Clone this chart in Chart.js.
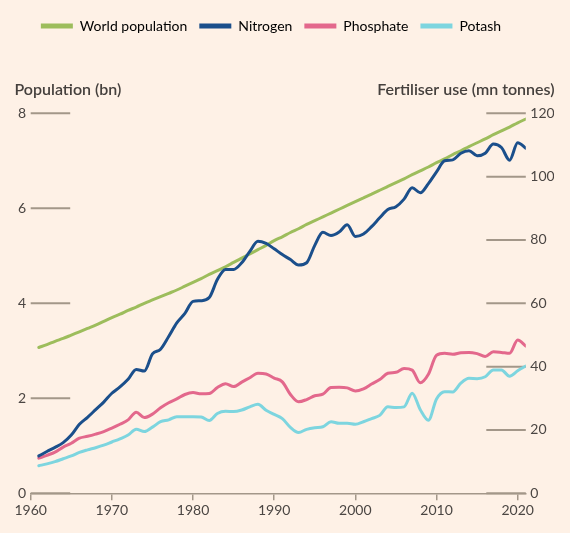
<!DOCTYPE html>
<html>
<head>
<meta charset="utf-8">
<script src="https://cdn.jsdelivr.net/npm/chart.js@4.4.1/dist/chart.umd.min.js"></script>
<style>
  html, body { margin: 0; padding: 0; background: #fef1e6; }
  #wrap { width: 554px; height: 533px; overflow: hidden; }
  canvas { display: block; }
</style>
</head>
<body>
<div id="wrap"><canvas id="c" width="570" height="533"></canvas></div>
<script>
// ---------- DATA ----------
const years = [1961,1962,1963,1964,1965,1966,1967,1968,1969,1970,
  1971,1972,1973,1974,1975,1976,1977,1978,1979,1980,
  1981,1982,1983,1984,1985,1986,1987,1988,1989,1990,
  1991,1992,1993,1994,1995,1996,1997,1998,1999,2000,
  2001,2002,2003,2004,2005,2006,2007,2008,2009,2010,
  2011,2012,2013,2014,2015,2016,2017,2018,2019,2020,2021];

// World population (bn), left axis
const population = [3.07,3.13,3.20,3.26,3.33, 3.40,3.47,3.54,3.62,3.70,
  3.77,3.85,3.92,4.00,4.07, 4.14,4.21,4.28,4.36,4.44,
  4.52,4.61,4.69,4.77,4.86, 4.95,5.04,5.13,5.22,5.32,
  5.40,5.49,5.57,5.66,5.74, 5.82,5.90,5.98,6.06,6.14,
  6.22,6.30,6.38,6.46,6.54, 6.62,6.71,6.79,6.87,6.96,
  7.04,7.13,7.21,7.30,7.38, 7.46,7.55,7.63,7.71,7.80, 7.88];

// Fertiliser use (mn tonnes), right axis
const nitrogen = [11.8,13.2,14.5,16.0,18.4, 21.8,24.0,26.4,28.8,31.6,
  33.6,36.0,39.1,38.6,44.0, 45.5,49.5,53.8,56.8,60.6,
  60.8,61.8,67.5,70.7,70.7, 72.8,76.4,79.6,78.9,77.2,
  75.4,73.8,72.1,72.8,78.3, 82.4,81.4,82.5,84.8,81.1,
  81.9,84.2,87.0,89.6,90.5, 92.9,96.5,94.9,97.8,101.5,
  105.0,105.3,107.4,108.2,106.6, 107.4,110.3,109.2,105.2,110.7, 109.0];

const phosphate = [11.1,12.0,13.0,14.6,15.8, 17.4,18.0,18.7,19.5,20.6,
  21.8,23.2,25.6,23.9,25.0, 27.0,28.6,29.8,31.2,31.8,
  31.4,31.5,33.4,34.6,33.7, 35.1,36.5,37.9,37.7,36.4,
  35.2,31.2,28.9,29.6,30.8, 31.3,33.4,33.5,33.3,32.3,
  33.0,34.5,35.9,37.9,38.2, 39.4,38.9,34.9,37.6,43.6,
  44.2,43.9,44.4,44.5,44.1, 43.2,44.7,44.5,44.2,48.4, 46.5];

const potash = [8.7,9.3,10.0,10.9,11.8, 12.9,13.7,14.4,15.2,16.2,
  17.2,18.4,20.2,19.5,20.9, 22.6,23.2,24.2,24.2,24.2,
  24.1,23.0,25.2,25.9,25.8, 26.3,27.3,28.1,26.2,24.9,
  23.6,20.8,19.2,20.2,20.7, 21.0,22.6,22.1,22.1,21.8,
  22.6,23.6,24.6,27.3,27.1, 27.3,31.6,26.4,23.1,29.8,
  32.1,32.0,34.8,36.3,36.2, 36.8,38.9,38.9,37.0,38.7, 40.2];

const seriesNames = ['World population','Nitrogen','Phosphate','Potash'];
const xTicks = [1960,1970,1980,1990,2000,2010,2020];
const leftTicks = [0,2,4,6,8];
const rightTicks = [0,20,40,60,80,100,120];
const leftTitle = 'Population (bn)';
const rightTitle = 'Fertiliser use (mn tonnes)';

// ---------- STYLE ----------
const colors = ['#9dbd5c', '#1b4f8b', '#e3688c', '#7dd5df'];
const tickLineColor = '#a39789';
const textColor = '#4b4643';
const FONT = 'Lato, "Open Sans", sans-serif';

const toXY = arr => arr.map((v, i) => ({ x: years[i], y: v }));

const decor = {
  id: 'decor',
  beforeInit(chart) {
    const lg = chart.legend;
    if (lg) {
      const orig = lg.fit;
      lg.fit = function () { orig.call(this); this.height = 106.3; };
    }
  },
  beforeDatasetsDraw(chart) {
    const { ctx, chartArea, scales } = chart;
    const yL = scales.yL, yR = scales.yR;
    ctx.save();
    ctx.strokeStyle = tickLineColor;
    ctx.lineWidth = 2;
    ctx.fillStyle = textColor;
    ctx.font = '14px ' + FONT;
    ctx.textBaseline = 'middle';
    leftTicks.forEach(v => {
      const y = yL.getPixelForValue(v);
      ctx.beginPath();
      ctx.moveTo(chartArea.left, y);
      ctx.lineTo(chartArea.left + 39.5, y);
      ctx.stroke();
      ctx.textAlign = 'right';
      ctx.fillText(String(v), chartArea.left - 4.5, y);
    });
    rightTicks.forEach(v => {
      const y = yR.getPixelForValue(v);
      ctx.beginPath();
      ctx.moveTo(chartArea.right - 39.5, y);
      ctx.lineTo(chartArea.right, y);
      ctx.stroke();
      ctx.textAlign = 'left';
      ctx.fillText(String(v), chartArea.right + 4.5, y);
    });
    ctx.font = '600 16px ' + FONT;
    ctx.fillStyle = '#45403d';
    ctx.textAlign = 'left';
    ctx.fillText(leftTitle, 14.5, 90);
    ctx.textAlign = 'right';
    ctx.fillText(rightTitle, 554.5, 90);
    ctx.restore();
  }
};

const mk = (i, arr, axis, order) => ({
  label: seriesNames[i],
  data: toXY(arr),
  yAxisID: axis,
  borderColor: colors[i],
  backgroundColor: colors[i],
  borderWidth: 3,
  pointRadius: 0,
  pointHoverRadius: 0,
  tension: 0.3,
  cubicInterpolationMode: 'monotone',
  borderCapStyle: 'round',
  borderJoinStyle: 'round',
  fill: false,
  order: order
});

const hiddenY = (pos, max, w) => ({
  type: 'linear', position: pos, min: 0, max: max, display: true,
  grid: { display: false, drawTicks: false },
  border: { display: false },
  ticks: { display: false },
  afterFit(scale) { scale.width = w; }
});

new Chart(document.getElementById('c'), {
  type: 'line',
  data: {
    datasets: [
      mk(0, population, 'yL', 1),
      mk(1, nitrogen, 'yR', 0),
      mk(2, phosphate, 'yR', 2),
      mk(3, potash, 'yR', 3)
    ]
  },
  options: {
    responsive: false,
    animation: false,
    devicePixelRatio: 1,
    layout: { padding: { top: 7, left: 0, right: 28, bottom: 0 } },
    plugins: {
      legend: {
        display: true,
        position: 'top',
        align: 'center',
        labels: {
          boxWidth: 32,
          boxHeight: 5,
          padding: 12,
          color: '#3d3936',
          font: { family: FONT, size: 14 },
          generateLabels(chart) {
            return chart.data.datasets.map((d, i) => ({
              text: d.label,
              fillStyle: d.borderColor,
              strokeStyle: d.borderColor,
              lineWidth: 0,
              hidden: false,
              datasetIndex: i
            }));
          }
        }
      },
      tooltip: { enabled: false },
      title: { display: false }
    },
    scales: {
      x: {
        type: 'linear',
        min: 1960,
        max: 2021,
        afterBuildTicks(scale) { scale.ticks = xTicks.map(v => ({ value: v })); },
        afterFit(scale) { scale.height = 39.7; },
        border: { display: true, color: tickLineColor, width: 1.5 },
        grid: { drawOnChartArea: false, drawTicks: true, tickLength: 7, color: tickLineColor, lineWidth: 1.5 },
        ticks: {
          color: textColor,
          font: { family: FONT, size: 14 },
          padding: 2,
          maxRotation: 0,
          autoSkip: false,
          callback: v => String(v)
        }
      },
      yL: hiddenY('left', 8, 30.7),
      yR: hiddenY('right', 120, 16.2)
    }
  },
  plugins: [decor]
});
</script>
</body>
</html>
